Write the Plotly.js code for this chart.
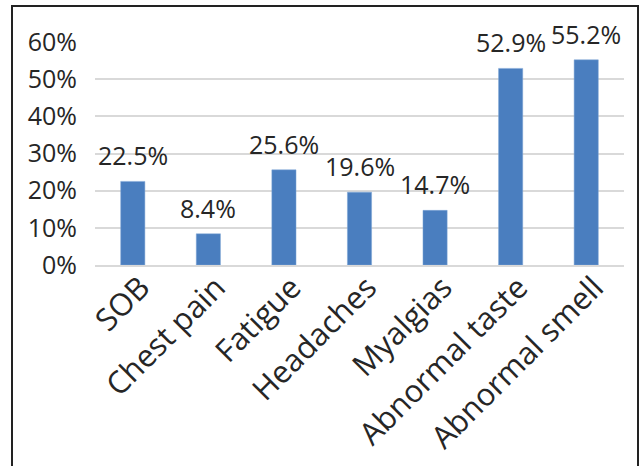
<!DOCTYPE html>
<html><head><meta charset="utf-8">
<script src="https://cdn.plot.ly/plotly-3.0.1.min.js"></script>
<style>
html,body{margin:0;padding:0;background:#fff;}
#wrap{position:relative;width:643px;height:466px;overflow:hidden;}
#chart{width:643px;height:466px;}
#frame{position:absolute;left:11px;top:5px;width:624px;height:480px;border:2px solid #222;pointer-events:none;}
</style></head>
<body><div id="wrap"><div id="chart"></div><div id="frame"></div></div>
<script>
const categories = ["SOB","Chest pain","Fatigue","Headaches","Myalgias","Abnormal taste","Abnormal smell"];
const values = [22.5, 8.4, 25.6, 19.6, 14.7, 52.9, 55.2];
const labels = ["22.5%","8.4%","25.6%","19.6%","14.7%","52.9%","55.2%"];
const yTicks = [0,10,20,30,40,50,60];
const yTickText = ["0%","10%","20%","30%","40%","50%","60%"];

const font = "'Open Sans', sans-serif";
const trace = {
  type: "bar", x: categories, y: values,
  marker: {color: "#4a7ebf", line: {color: "#7fa6d6", width: 0.5}},
  hoverinfo: "none"
};
const annotations = categories.map((c, i) => ({
  x: c, y: values[i], text: labels[i], showarrow: false,
  yanchor: "bottom", yshift: 7, font: {family: font, size: 25, color: "#262626"}
}));
const layout = {
  width: 643, height: 466,
  margin: {l: 95, r: 19, t: 42, b: 201},
  paper_bgcolor: "#fff", plot_bgcolor: "#fff",
  showlegend: false, bargap: 0.68,
  font: {family: font, color: "#262626"},
  xaxis: {tickangle: -45, tickfont: {size: 31, color: "#262626"}, showgrid: false,
          showline: true, linecolor: "#d9d9d9", linewidth: 2, ticks: "", fixedrange: true,
          ticklabelstandoff: -10, ticklabelshift: 8},
  yaxis: {range: [0, 60], tickvals: yTicks, ticktext: yTickText, tickfont: {size: 25, color: "#262626"},
          showgrid: true, gridcolor: "#d9d9d9", gridwidth: 2, zeroline: false, ticks: "",
          ticklabelstandoff: 17, showline: false, fixedrange: true},
  annotations: annotations
};
Plotly.newPlot("chart", [trace], layout, {displayModeBar: false, staticPlot: true});
</script></body></html>
